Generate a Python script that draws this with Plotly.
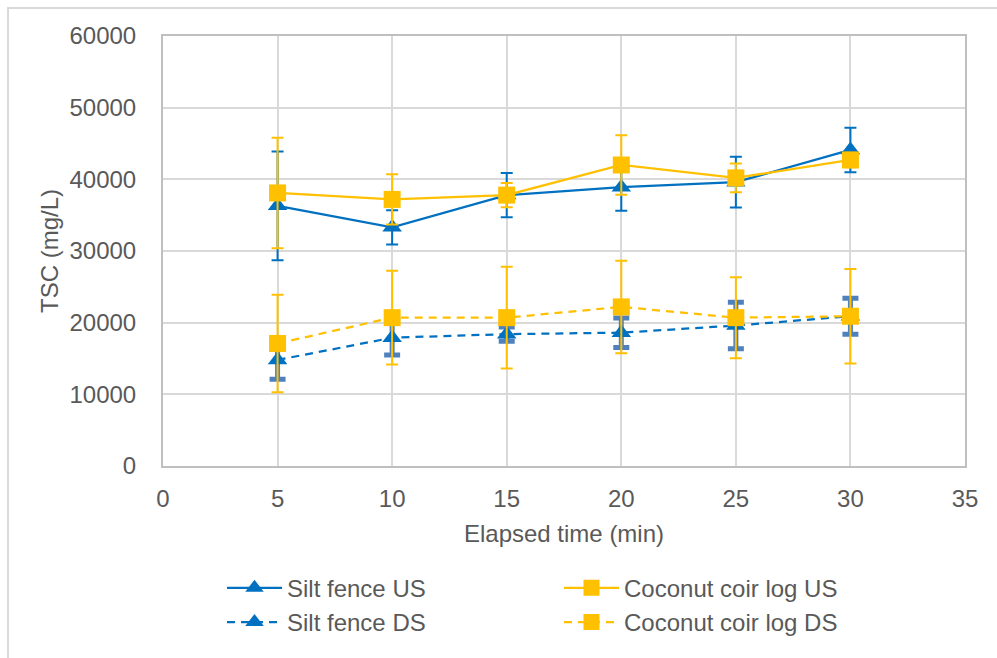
import plotly.graph_objects as go

time_min = [5, 10, 15, 20, 25, 30]

silt_us = [36300, 33300, 37800, 38900, 39600, 44100]
silt_us_err = [7600, 2400, 3100, 3300, 3540, 3100]

coir_us = [38100, 37200, 37800, 42000, 40200, 42700]
coir_us_err = [7700, 3500, 1700, 4150, 2000, 1000]

silt_ds = [14800, 17900, 18400, 18600, 19600, 20900]
silt_ds_err = [2700, 2400, 1000, 2050, 3250, 2500]

coir_ds = [17100, 20700, 20700, 22200, 20700, 20900]
coir_ds_err = [6800, 6550, 7100, 6450, 5650, 6600]

x_ticks = [0, 5, 10, 15, 20, 25, 30, 35]
y_ticks = [0, 10000, 20000, 30000, 40000, 50000, 60000]

BLUE = "#0070C0"
YELLOW = "#FFC000"
STEEL = "#4F81BD"
TXT = "#595959"
FONT = "Liberation Sans, Arial, sans-serif"
FS = 24

fig = go.Figure()

fig.add_trace(go.Scatter(
    x=time_min, y=silt_us, name="Silt fence US", mode="lines+markers",
    line=dict(color=BLUE, width=2.25),
    marker=dict(symbol="triangle-up", size=17, color=BLUE),
    error_y=dict(type="data", array=silt_us_err, visible=True, color=BLUE, thickness=2, width=6),
))
fig.add_trace(go.Scatter(
    x=time_min, y=coir_us, name="Coconut coir log US", mode="lines+markers",
    line=dict(color=YELLOW, width=2.25),
    marker=dict(symbol="square", size=17, color=YELLOW),
    error_y=dict(type="data", array=coir_us_err, visible=True, color=YELLOW, thickness=2, width=6),
))
fig.add_trace(go.Scatter(
    x=time_min, y=silt_ds, name="Silt fence DS", mode="lines+markers",
    line=dict(color=BLUE, width=2.25, dash="8px,6px"),
    marker=dict(symbol="triangle-up", size=17, color=BLUE),
    error_y=dict(type="data", array=silt_ds_err, visible=True, color=STEEL, thickness=5, width=8),
))
fig.add_trace(go.Scatter(
    x=time_min, y=coir_ds, name="Coconut coir log DS", mode="lines+markers",
    line=dict(color=YELLOW, width=2.25, dash="8px,6px"),
    marker=dict(symbol="square", size=17, color=YELLOW),
    error_y=dict(type="data", array=coir_ds_err, visible=True, color=YELLOW, thickness=2, width=6),
))

fig.update_layout(
    width=997, height=658,
    margin=dict(l=163, r=32, t=36, b=192, autoexpand=False),
    paper_bgcolor="white", plot_bgcolor="white",
    font=dict(family=FONT, size=FS, color=TXT),
    showlegend=True,
    legend=dict(
        orientation="h", x=(222 - 163) / 802, xanchor="left", y=-0.232, yanchor="top",
        entrywidth=267, entrywidthmode="pixels", itemwidth=55,
        font=dict(family=FONT, size=FS, color=TXT),
        bgcolor="rgba(0,0,0,0)",
    ),
    shapes=[dict(
        type="rect", xref="paper", yref="paper",
        x0=(8 - 163) / 802, x1=(1020 - 163) / 802,
        y0=(466 - 680) / 430, y1=(466 - 8) / 430,
        line=dict(color="#D9D9D9", width=2), fillcolor="rgba(0,0,0,0)", layer="below",
    )],
)

fig.update_xaxes(
    range=[0, 35], tickvals=x_ticks, ticktext=[str(v) for v in x_ticks],
    showgrid=True, gridcolor="#D9D9D9", gridwidth=2,
    showline=True, linecolor="#BFBFBF", linewidth=2, mirror=True,
    zeroline=False, ticks="", ticklabelstandoff=10,
    tickfont=dict(family=FONT, size=FS, color=TXT),
    title=dict(text="Elapsed time (min)", font=dict(family=FONT, size=FS, color=TXT), standoff=14),
)
fig.update_yaxes(
    range=[0, 60000], tickvals=y_ticks, ticktext=[str(v) for v in y_ticks],
    showgrid=True, gridcolor="#D9D9D9", gridwidth=2,
    showline=True, linecolor="#BFBFBF", linewidth=2, mirror=True,
    zeroline=False, ticks="", ticklabelstandoff=20,
    tickfont=dict(family=FONT, size=FS, color=TXT),
    title=dict(text="TSC (mg/L)", font=dict(family=FONT, size=FS, color=TXT), standoff=4),
)

fig.write_html("out.html")
